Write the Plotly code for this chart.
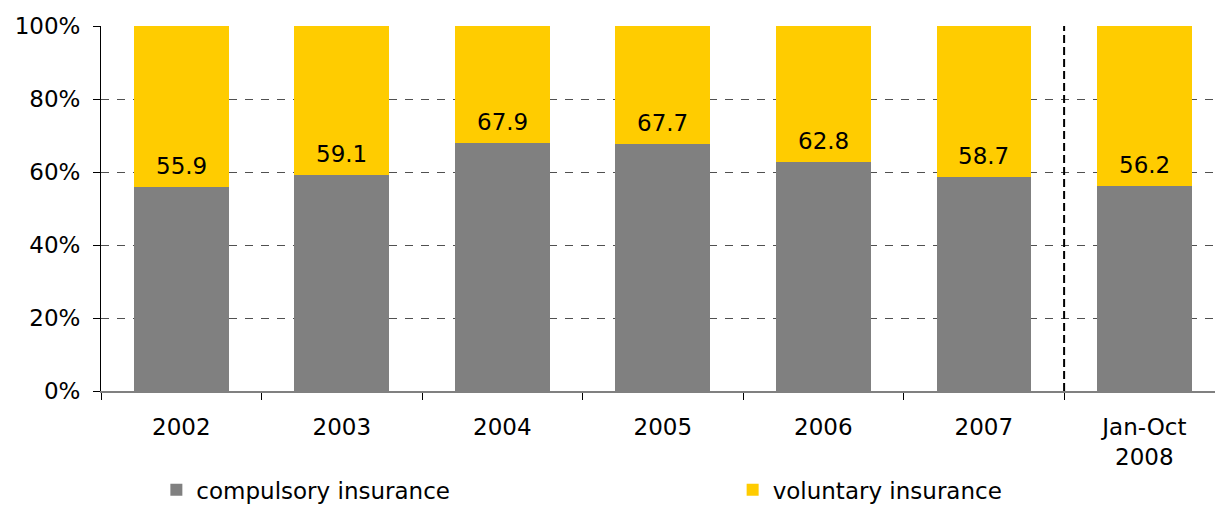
import plotly.graph_objects as go

categories = ["2002", "2003", "2004", "2005", "2006", "2007", "Jan-Oct<br>2008"]
compulsory = [55.9, 59.1, 67.9, 67.7, 62.8, 58.7, 56.2]
voluntary = [round(100 - v, 1) for v in compulsory]
labels = ["55.9", "59.1", "67.9", "67.7", "62.8", "58.7", "56.2"]
y_ticks = [0, 20, 40, 60, 80, 100]
y_ticktext = ["0%", "20%", "40%", "60%", "80%", "100%"]

FONT = "DejaVu Sans"
FS = 23
fig = go.Figure()
fig.add_trace(go.Bar(x=categories, y=compulsory, name="compulsory insurance",
                     marker=dict(color="#808080", line=dict(width=0)), width=0.59,
                     legend="legend"))
fig.add_trace(go.Bar(x=categories, y=voluntary, name="voluntary insurance",
                     marker=dict(color="#FFCC00", line=dict(width=0)), width=0.59,
                     legend="legend2"))

for i, (v, t) in enumerate(zip(compulsory, labels)):
    fig.add_annotation(x=i, y=v, xref="x", yref="y", text=t, showarrow=False,
                       yanchor="bottom", yshift=6,
                       font=dict(family=FONT, size=FS, color="black"))

fig.add_shape(type="line", xref="x", yref="paper", x0=5.5, x1=5.5, y0=0, y1=1,
              line=dict(color="black", width=2, dash="8px,4px"))

leg_common = dict(orientation="h", xanchor="left", y=-0.212, yanchor="top",
                  font=dict(family=FONT, size=FS), bgcolor="rgba(0,0,0,0)")
fig.update_layout(
    barmode="stack",
    width=1215, height=506,
    margin=dict(l=101, r=0, t=26, b=115, autoexpand=False),
    paper_bgcolor="white", plot_bgcolor="white",
    font=dict(family=FONT, size=FS, color="black"),
    showlegend=True,
    legend=dict(x=0.0497, **leg_common),
    legend2=dict(x=0.567, **leg_common),
    xaxis=dict(type="category", range=[-0.5, 6.44], autorange=False, showline=True,
               linecolor="#808080", linewidth=2, ticks="outside", tickson="boundaries",
               ticklen=7, tickcolor="black", tickwidth=1, showgrid=False,
               ticklabelstandoff=14, automargin=False,
               tickfont=dict(family=FONT, size=FS)),
    yaxis=dict(range=[0, 100], autorange=False, tickmode="array", tickvals=y_ticks,
               ticktext=y_ticktext, showline=True, linecolor="black", linewidth=1,
               ticks="outside", ticklen=7, tickcolor="black", showgrid=True,
               gridcolor="#505050", griddash="8px,8px", gridwidth=1, zeroline=False,
               ticklabelstandoff=8, automargin=False,
               tickfont=dict(family=FONT, size=FS)),
)
fig.write_html("out.html", config={"displayModeBar": False},
               post_script="document.body.style.margin='0';")
